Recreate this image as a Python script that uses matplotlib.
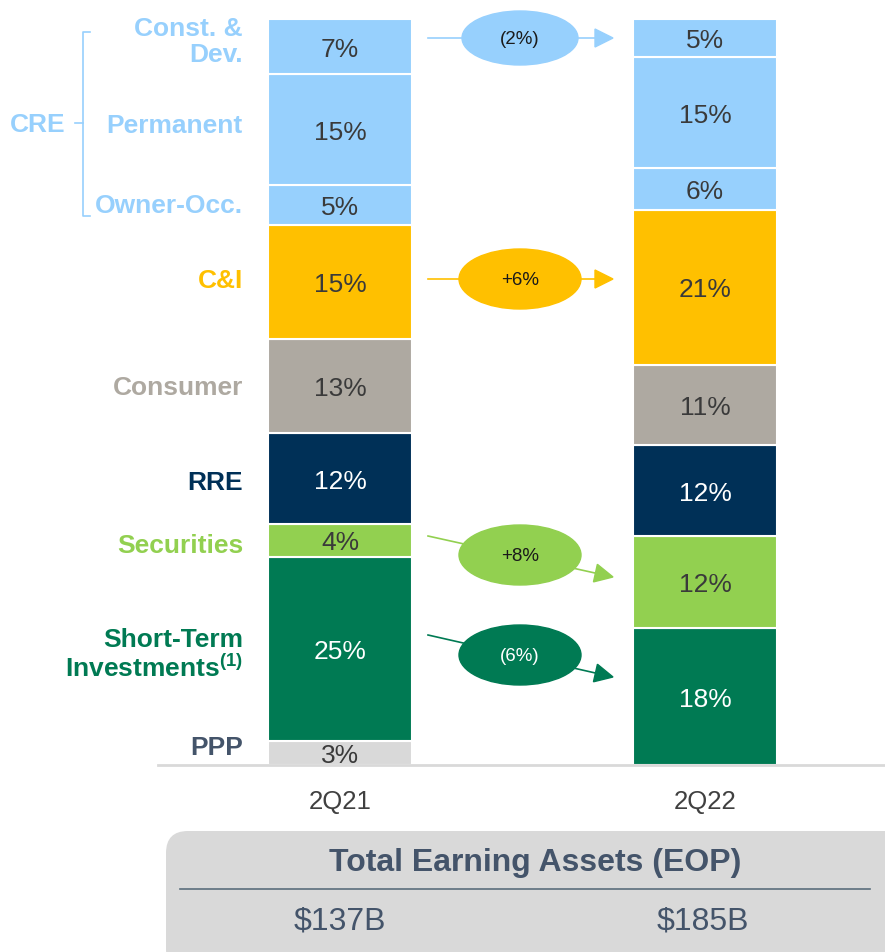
import matplotlib
matplotlib.use("Agg")
import matplotlib.pyplot as plt
from matplotlib.patches import Ellipse, FancyBboxPatch, Polygon
import numpy as np

plt.rcParams['font.family'] = ['Liberation Sans', 'DejaVu Sans']
plt.rcParams['mathtext.fontset'] = 'custom'
plt.rcParams['mathtext.rm'] = 'Liberation Sans'
plt.rcParams['mathtext.bf'] = 'Liberation Sans:bold'

# ---------------- data ----------------
periods = ["2Q21", "2Q22"]
segments = ["Short-Term Investments", "Securities", "RRE", "Consumer", "C&I",
            "Owner-Occ.", "Permanent", "Const. & Dev."]
# shares (%) bottom -> top ; PPP only in 2Q21
ppp_2q21 = 3.2
share_2q21 = [24.8, 4.4, 12.2, 12.7, 15.3, 5.4, 14.9, 7.4]
share_2q22 = [18.4, 12.3, 12.3, 10.7, 20.9, 5.6, 14.9, 5.1]
labels_2q21 = ["3%", "25%", "4%", "12%", "13%", "15%", "5%", "15%", "7%"]
labels_2q22 = ["18%", "12%", "12%", "11%", "21%", "6%", "15%", "5%"]
changes = ["(6%)", "+8%", "+6%", "(2%)"]
totals = ["$137B", "$185B"]

seg_colors = ["#007A53", "#92D050", "#003057", "#AEA9A1", "#FFC000",
              "#97D0FD", "#97D0FD", "#97D0FD"]
ppp_color = "#D9D9D9"
dark = "#3A3A3A"
seg_text = ["white", dark, "white", dark, dark, dark, dark, dark]

W, H = 885, 953
fig = plt.figure(figsize=(W / 100, H / 100), dpi=100)

# main bar axes
ax = fig.add_axes([158 / W, (H - 766) / H, 727 / W, 746 / H])
ax.set_xlim(-0.4986, 1.493)
ax.set_ylim(0, 100)
ax.axis("off")
bw = 144 / 365

def draw_bar(x, vals, cols, txtcols, labels):
    vals = np.array(vals, dtype=float)
    vals = vals / vals.sum() * 100
    bottom = 0
    for v, c, tc, lab in zip(vals, cols, txtcols, labels):
        ax.bar(x, v, bottom=bottom, width=bw, color=c, edgecolor="white",
               linewidth=1.5, zorder=2)
        ax.annotate(lab, (x, bottom + v / 2), xytext=(0, -1.5),
                    textcoords="offset points", ha="center", va="center",
                    fontsize=19, color=tc, zorder=3)
        bottom += v

draw_bar(0, [ppp_2q21] + share_2q21, [ppp_color] + seg_colors,
         [dark] + seg_text, labels_2q21)
draw_bar(1, share_2q22, seg_colors, seg_text, labels_2q22)

# overlay axes in pixel coordinates
ov = fig.add_axes([0, 0, 1, 1], zorder=5)
ov.set_xlim(0, W)
ov.set_ylim(H, 0)
ov.axis("off")
ov.patch.set_alpha(0)

# baseline
ov.plot([158, 885], [766, 766], color="#D9D9D9", lw=2, zorder=1)

# period labels
for x, p in zip([340, 705], periods):
    ov.text(x, 802, p, ha="center", va="center", fontsize=18.5, color="#404040")

# left labels
lab_specs = [
    ("Const. &\nDev.", 42, "#97D0FD"),
    ("Permanent", 126, "#97D0FD"),
    ("Owner-Occ.", 206, "#97D0FD"),
    ("C&I", 281, "#FFC000"),
    ("Consumer", 388, "#AEA9A1"),
    ("RRE", 483, "#003057"),
    ("Securities", 546, "#92D050"),
    ("PPP", 748, "#44546A"),
]
for t, y, c in lab_specs:
    ov.text(243, y, t, ha="right", va="center", fontsize=19,
            fontweight="bold", color=c, linespacing=1.08)
ov.text(243, 655, "Short-Term\nInvestments$^{\\mathbf{(1)}}$", ha="right",
        va="center", fontsize=19, fontweight="bold", color="#007A53",
        linespacing=1.12)

# CRE bracket
bc = "#97D0FD"
ov.plot([90, 83, 83, 90], [33, 33, 217, 217], color=bc, lw=1.2)
ov.plot([75, 83], [124, 124], color=bc, lw=1.2)
ov.text(38, 125, "CRE", ha="center", va="center", fontsize=19,
        fontweight="bold", color="#97D0FD")

# change ellipses with arrows
arrow_specs = [
    # (change label, y_start, y_end, color, text color, ew, eh, ey)
    (changes[3], 39, 39, "#97D0FD", "#1A1A1A", 116, 54, 39),
    (changes[2], 280, 280, "#FFC000", "#1A1A1A", 122, 60, 280),
    (changes[1], 537, 578, "#92D050", "#1A1A1A", 122, 60, 556),
    (changes[0], 636, 678, "#007A53", "white", 122, 60, 656),
]
for lab, y0, y1, col, tc, ew, eh, ey in arrow_specs:
    x0 = 428
    dx, dy = 613 - x0, y1 - y0
    L = np.hypot(dx, dy)
    ux, uy = dx / L, dy / L
    px_, py_ = -uy, ux
    tip = np.array([613, y1])
    base = tip - 18 * np.array([ux, uy])
    ov.plot([x0, base[0]], [y0, base[1]], color=col, lw=1.2, zorder=2)
    head = [tip, base + 9 * np.array([px_, py_]), base - 9 * np.array([px_, py_])]
    ov.add_patch(Polygon(head, closed=True, color=col, zorder=3))
    ov.add_patch(Ellipse((520, ey), ew, eh, color=col, zorder=4))
    ov.text(520, ey + 1, lab, ha="center", va="center", fontsize=13.5,
            color=tc, zorder=5)

# total box
ov.add_patch(FancyBboxPatch((166, 832), 760, 140,
                            boxstyle="round,pad=0,rounding_size=22",
                            facecolor="#D9D9D9", edgecolor="none", zorder=1))
ov.text(535, 863, "Total Earning Assets (EOP)", ha="center", va="center",
        fontsize=23, fontweight="bold", color="#44546A", zorder=2)
ov.plot([180, 870], [890, 890], color="#5A6E7C", lw=1.2, zorder=2)
for x, t in zip([340, 703], totals):
    ov.text(x, 922, t, ha="center", va="center", fontsize=23,
            color="#44546A", zorder=2)

fig.savefig("out.png", dpi=100)
